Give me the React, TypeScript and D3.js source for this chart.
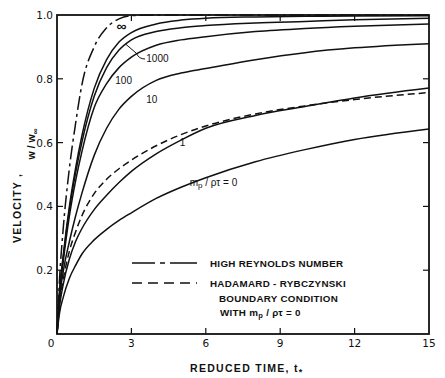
import React from "react";
import * as d3 from "d3";

// reduced time samples
const T = [0, 0.1, 0.25, 0.5, 0.75, 1, 1.5, 2, 2.5, 3, 4, 5, 6, 8, 10, 12, 15];
// High Reynolds number (dash-dot)
const highRe = [0, 0.17, 0.33, 0.52, 0.66, 0.78, 0.9, 0.96, 0.988, 0.998, 1, 1, 1, 1, 1, 1, 1];
// m_p/(rho tau) curves
const rInf = [0, 0.13, 0.245, 0.4, 0.52, 0.62, 0.77, 0.86, 0.915, 0.945, 0.972, 0.984, 0.99, 0.994, 0.996, 0.997, 0.998];
const r1000 = [0, 0.13, 0.24, 0.39, 0.505, 0.6, 0.745, 0.835, 0.89, 0.922, 0.948, 0.96, 0.967, 0.975, 0.98, 0.985, 0.99];
const r100 = [0, 0.12, 0.225, 0.37, 0.48, 0.57, 0.71, 0.785, 0.835, 0.868, 0.905, 0.922, 0.932, 0.948, 0.958, 0.965, 0.972];
const r10 = [0, 0.11, 0.195, 0.29, 0.37, 0.44, 0.56, 0.645, 0.705, 0.745, 0.795, 0.818, 0.832, 0.86, 0.882, 0.897, 0.91];
const r1 = [0, 0.085, 0.155, 0.235, 0.29, 0.33, 0.39, 0.435, 0.475, 0.51, 0.565, 0.608, 0.645, 0.685, 0.713, 0.74, 0.771];
const r0 = [0, 0.065, 0.115, 0.175, 0.215, 0.25, 0.295, 0.328, 0.356, 0.38, 0.425, 0.46, 0.49, 0.54, 0.578, 0.61, 0.643];
// Hadamard-Rybczynski with m_p/rho tau = 0 (dashed)
const hadamard = [0, 0.095, 0.17, 0.26, 0.32, 0.37, 0.44, 0.485, 0.518, 0.545, 0.59, 0.625, 0.652, 0.69, 0.715, 0.735, 0.757];

const xTicks = [3, 6, 9, 12, 15];
const yTicks = [0.2, 0.4, 0.6, 0.8, 1.0];
const innerX = [3, 6, 9, 12];
const innerY = [0.2, 0.4, 0.6, 0.8];

const W = 445, H = 378;
const X0 = 57, X1 = 429, Y0 = 334, Y1 = 15;

export default function App() {
  const x = d3.scaleLinear().domain([0, 15]).range([X0, X1]);
  const y = d3.scaleLinear().domain([0, 1]).range([Y0, Y1]);
  const line = (vals: number[]) =>
    d3.line<number>().x((_, i) => x(T[i])).y((v) => y(v)).curve(d3.curveMonotoneX)(vals) as string;

  const font = "'Liberation Sans', Arial, sans-serif";
  const tickFont = "'DejaVu Sans', sans-serif";
  const ink = "#111";

  const solid = [rInf, r1000, r100, r10, r1, r0];

  return (
    <svg width={W} height={H} style={{ position: "absolute", left: 0, top: 0, background: "#fff" }}>
      {/* curves */}
      <g fill="none" stroke={ink} strokeWidth={1.5}>
        {solid.map((s, i) => (
          <path key={i} d={line(s)} />
        ))}
        <path d={line(hadamard)} strokeDasharray="7 4" />
        <path d={line(highRe)} strokeDasharray="14 4 3 4" />
      </g>

      {/* frame */}
      <rect x={X0} y={Y1} width={X1 - X0} height={Y0 - Y1} fill="none" stroke={ink} strokeWidth={1.8} />
      <g stroke={ink} strokeWidth={1.2}>
        {innerX.map((t) => (
          <g key={t}>
            <line x1={x(t)} x2={x(t)} y1={Y0} y2={Y0 - 6} />
            <line x1={x(t)} x2={x(t)} y1={Y1} y2={Y1 + 6} />
          </g>
        ))}
        {innerY.map((v) => (
          <g key={v}>
            <line x1={X0} x2={X0 + 6} y1={y(v)} y2={y(v)} />
            <line x1={X1} x2={X1 - 6} y1={y(v)} y2={y(v)} />
          </g>
        ))}
      </g>

      {/* tick labels */}
      <g fontFamily={tickFont} fontSize={10.5} fill={ink}>
        {xTicks.map((t) => (
          <text key={t} x={x(t)} y={Y0 + 13} textAnchor="middle">{t}</text>
        ))}
        <text x={X0 - 6} y={Y0 + 13} textAnchor="middle">0</text>
        {yTicks.map((v) => (
          <text key={v} x={X0 - 4} y={y(v) + 4} textAnchor="end">{v.toFixed(1)}</text>
        ))}
      </g>

      {/* axis titles */}
      <text x={190} y={372} fontFamily={font} fontSize={10.5} fontWeight="bold" letterSpacing={1.3} fill={ink}>
        REDUCED  TIME,  t<tspan fontSize={9} dy={3}>*</tspan>
      </text>
      <text transform="translate(21,208) rotate(-90)" textAnchor="middle" fontFamily={font} fontSize={10.5} fontWeight="bold" letterSpacing={1.2} fill={ink}>
        VELOCITY ,
      </text>
      <text transform="translate(35,144) rotate(-90)" textAnchor="middle" fontFamily={font} fontSize={10.5} fontWeight="bold" fill={ink}>
        w / w<tspan fontSize={8} dy={3}>∞</tspan>
      </text>

      {/* curve labels */}
      <g fontFamily={font} fontSize={10} fill={ink}>
        <text x={x(2.4)} y={y(0.95)} fontSize={14} fontWeight="bold">∞</text>
        <text x={x(3.6)} y={y(0.853)}>1000</text>
        <text x={x(2.35)} y={y(0.785)}>100</text>
        <text x={x(3.6)} y={y(0.725)}>10</text>
        <text x={x(4.95)} y={y(0.59)}>1</text>
        <text x={x(5.35)} y={y(0.465)}>m<tspan fontSize={8} dy={2}>p</tspan><tspan dy={-2}> / ρτ = 0</tspan></text>
      </g>
      <path d={`M${x(2.78)},${y(0.908)} L${x(3.2)},${y(0.88)} Q${x(3.3)},${y(0.862)} ${x(3.55)},${y(0.862)}`} fill="none" stroke={ink} strokeWidth={1} />

      {/* legend */}
      <g stroke={ink} strokeWidth={1.5}>
        <line x1={132} x2={197} y1={263} y2={263} strokeDasharray="23 5 5 5 30" />
        <line x1={132} x2={197} y1={283} y2={283} strokeDasharray="10 6" />
      </g>
      <g fontFamily={font} fontSize={9.8} fontWeight="bold" fill={ink} letterSpacing={0.3}>
        <text x={210} y={267}>HIGH REYNOLDS NUMBER</text>
        <text x={210} y={287}>HADAMARD - RYBCZYNSKI</text>
        <text x={219} y={302}>BOUNDARY CONDITION</text>
        <text x={220} y={316}>WITH m<tspan fontSize={7.5} dy={2}>p</tspan><tspan dy={-2}> / ρτ = 0</tspan></text>
      </g>
    </svg>
  );
}
